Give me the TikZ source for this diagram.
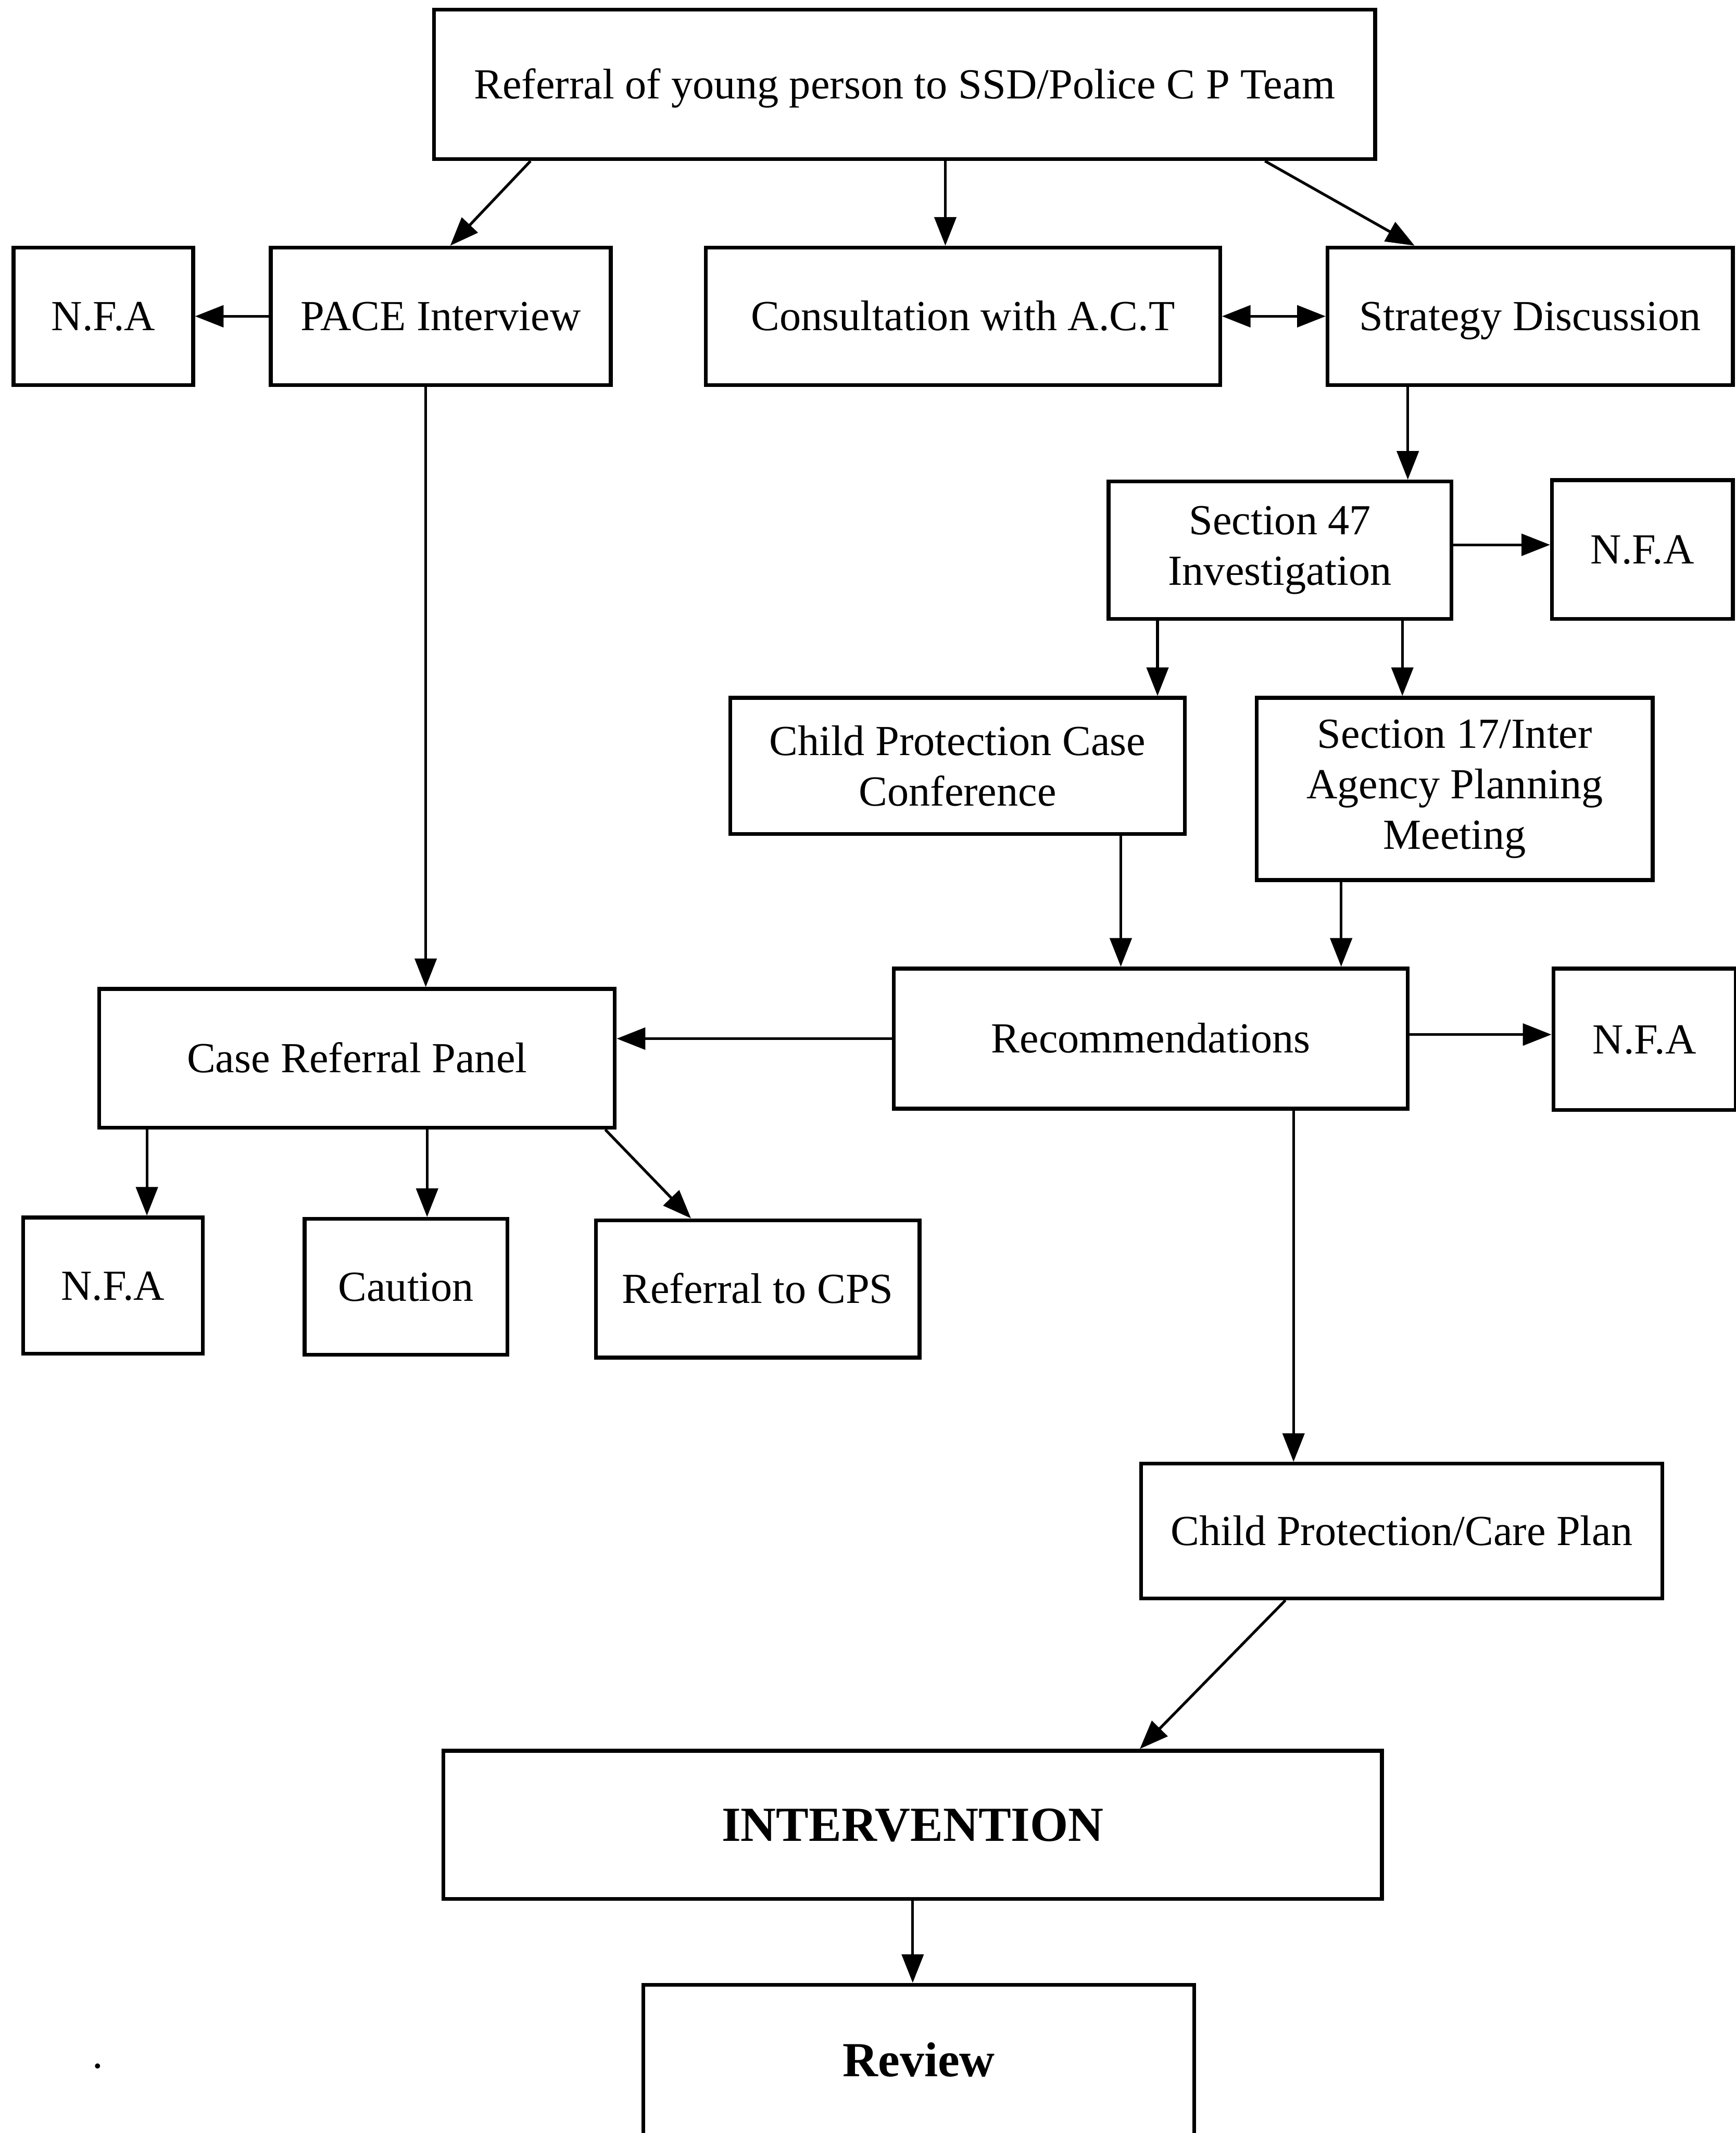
\documentclass[tikz,border=0pt]{standalone}
\usepackage{fontspec}
\setmainfont{Liberation Serif}
\usetikzlibrary{arrows.meta}

\tikzset{
  box/.style={draw, line width=2.8pt, align=center, inner sep=0pt, font=\fontsize{31.5}{37}\selectfont},
  one/.style={text height=21pt, text depth=0pt},
  bigbox/.style={box, text height=24pt, text depth=0pt, font=\fontsize{36}{42}\selectfont\bfseries},
  arr/.style={-{Triangle[length=21pt,width=16pt]}, line width=2pt},
  twoarr/.style={{Triangle[length=21pt,width=16pt]}-{Triangle[length=21pt,width=16pt]}, line width=2pt},
}

\begin{document}
\begin{tikzpicture}[x=1pt,y=1pt,yscale=-1,xscale=1]
%set diagram size: 1276 wide, 1568 high
\fill[white] (0,0) rectangle (1276,1568);
\useasboundingbox (0,0) rectangle (1276,1568);

% Boxes
\node[box, one, minimum width=692, minimum height=110] (ref) at (665,62) {Referral of young person to SSD/Police C P Team};
\node[box, one, minimum width=132, minimum height=101] (nfaA) at (76,232.5) {N.F.A};
\node[box, one, minimum width=250, minimum height=101] (pace) at (324,232.5) {PACE Interview};
\node[box, one, minimum width=378, minimum height=101] (cons) at (708,232.5) {Consultation with A.C.T};
\node[box, one, minimum width=298, minimum height=101] (strat) at (1125,232.5) {Strategy Discussion};
\node[box, minimum width=252, minimum height=101] (sec47) at (941,404.5) {Section 47\\Investigation};
\node[box, one, minimum width=133, minimum height=102] (nfaB) at (1207.5,404) {N.F.A};
\node[box, minimum width=334, minimum height=100] (cpcc) at (704,563) {Child Protection Case\\Conference};
\node[box, minimum width=291, minimum height=134] (sec17) at (1069.5,580) {Section 17/Inter\\Agency Planning\\Meeting};
\node[box, one, minimum width=378, minimum height=103] (recs) at (846,763.5) {Recommendations};
\node[box, one, minimum width=134, minimum height=104] (nfaC) at (1209,764) {N.F.A};
\node[box, one, minimum width=379, minimum height=102] (crp) at (262.5,778) {Case Referral Panel};
\node[box, one, minimum width=132, minimum height=100] (nfaD) at (83,945) {N.F.A};
\node[box, one, minimum width=149, minimum height=100] (caut) at (298.5,946) {Caution};
\node[box, one, minimum width=238, minimum height=101] (cps) at (557,947.5) {Referral to CPS};
\node[box, one, minimum width=383, minimum height=99] (plan) at (1030.5,1125.5) {Child Protection/Care Plan};
\node[bigbox, minimum width=690, minimum height=109] (interv) at (671,1341.5) {INTERVENTION};
\node[bigbox, minimum width=405, minimum height=111] (review) at (675.5,1514.5) {Review};

% Text Node
\node[font=\fontsize{31.5}{37}\selectfont, inner sep=0pt] (dot) at (72,1519) {.};

% Arrows
\draw[arr] ([xshift=-275pt]ref.south) -- ([xshift=7pt]pace.north);
\draw[arr] ([xshift=30pt]ref.south) -- ([xshift=-13pt]cons.north);
\draw[arr] ([xshift=265pt]ref.south) -- ([xshift=-85pt]strat.north);
\draw[arr] (pace.west) -- (nfaA.east);
\draw[twoarr] (cons.east) -- (strat.west);
\draw[arr] ([xshift=-90pt]strat.south) -- ([xshift=94pt]sec47.north);
\draw[arr] ([yshift=-4pt]sec47.east) -- ([yshift=-4pt]sec47.east -| nfaB.west);
\draw[arr] ([xshift=-90pt]sec47.south) -- ([xshift=147pt]cpcc.north);
\draw[arr] ([xshift=90pt]sec47.south) -- ([xshift=-38.5pt]sec17.north);
\draw[arr] ([xshift=-11pt]pace.south) -- ([xshift=50.5pt]crp.north);
\draw[arr] ([xshift=120pt]cpcc.south) -- ([xshift=-22pt]recs.north);
\draw[arr] ([xshift=-83.5pt]sec17.south) -- ([xshift=140pt]recs.north);
\draw[arr] (recs.west) -- (recs.west -| crp.east);
\draw[arr] ([yshift=-3pt]recs.east) -- ([yshift=-3pt]recs.east -| nfaC.west);
\draw[arr] ([xshift=105pt]recs.south) -- ([xshift=-79.5pt]plan.north);
\draw[arr] ([xshift=-154.5pt]crp.south) -- ([xshift=25pt]nfaD.north);
\draw[arr] ([xshift=51.5pt]crp.south) -- ([xshift=15.5pt]caut.north);
\draw[arr] ([xshift=182.5pt]crp.south) -- ([xshift=-49pt]cps.north);
\draw[arr] ([xshift=-85.5pt]plan.south) -- ([xshift=167pt]interv.north);
\draw[arr] (interv.south) -- ([xshift=-4.5pt]review.north);

\end{tikzpicture}
\end{document}
